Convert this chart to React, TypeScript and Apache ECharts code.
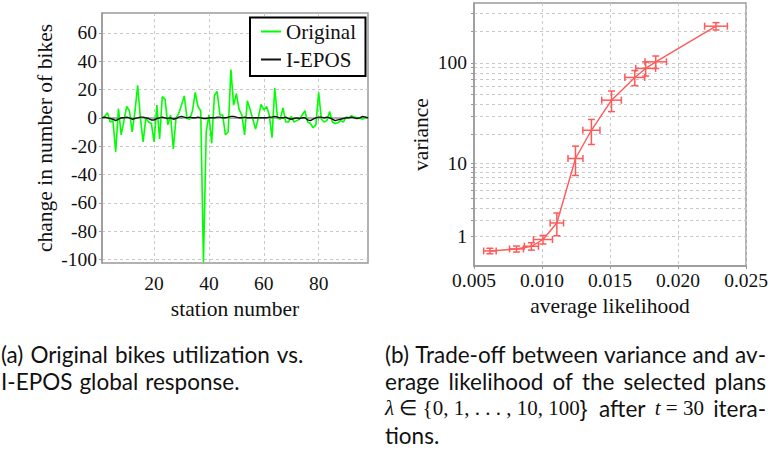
import React, { useEffect, useRef } from "react";
import * as echarts from "echarts";

// ---------- data: (a) bikes ----------
const ORIGINAL = [
  0, 1, 3.5, -3, -2, -24, 6.5, -12, -2, 8,
  5, -10, 4, 23, 0, -17, 0, -3, -4, -17,
  9, -15, 15, 13, -5, 2, -22, 0, 3, 9,
  15.5, -0.5, -1, 5, 18, 8, 5, -102, -10, 2,
  -18, 16, 18.5, 2, 2, -12, -10, 34, 9, 17,
  6, 2, -12, 12, 6, -1, -8, 0, 9.5, 5.5,
  8, 2, -14, 21, 0, -1, 7, -3, -3, 1,
  -3, -2, -1, 2, 5, -3, -4, -7, -5, 18,
  -1, -3, -2, 4.5, -3, -4, -3.5, -2, -3, 0.5,
  0, 1.5, 0.5, 0, 0, -1, 0.5, 0,
];
const IEPOS = [
  0, 0.5, 0, -0.5, -1, -2, -1, 0, 0, 0.5,
  0, -1, -0.5, 0, 0.5, 0.5, 0, -0.5, -1.5, -1.5,
  -0.5, 0, 0.5, 0, -0.5, 0, -1, -0.5, 0.5, 1,
  0.5, 0, 0.5, 0, 0, 0.5, 0, -0.5, -0.5, 0,
  0, 0, 0.5, 0.5, 0, 0, 0.5, 1, 1, 0.5,
  0, 0, 0.5, 0, 0, 0, 0, 0, 0, 0,
  0, 0.5, 0.5, 1, 0.5, 0, 0, 0.5, -0.5, -1,
  -0.5, 0, -0.5, 0, 0, -1.5, -2, -1, 0, 0.5,
  0.5, 0, 0.5, 0, -1, -2, -1.5, -1, -0.5, 0,
  0, 0.5, 0, -0.5, 0, 1, 0.5, 0,
];
const LEFT_X_TICKS = [20, 40, 60, 80];
const LEFT_Y_TICKS = [-100, -80, -60, -40, -20, 0, 20, 40, 60];
const LEFT_X_RANGE = [1, 98];
const LEFT_Y_RANGE = [-102.5, 74];

// ---------- data: (b) trade-off ----------
const LIKELIHOOD = [0.00617, 0.00812, 0.00922, 0.01007, 0.01109, 0.01246, 0.01363, 0.01511, 0.01682, 0.01762, 0.01836, 0.02279];
const LIKELIHOOD_ERR = [0.00046, 0.00051, 0.00052, 0.0007, 0.00049, 0.00055, 0.00063, 0.00072, 0.00073, 0.00073, 0.00079, 0.00084];
const VARIANCE = [0.38, 0.455, 0.56, 0.855, 1.79, 11.3, 22.0, 43.6, 72.4, 88.4, 102.3, 224];
const VARIANCE_ERR = [0.1, 0.115, 0.15, 0.2, 0.75, 3.9, 6.2, 9.9, 12, 13.7, 14, 18];
const RIGHT_X_TICKS = [0.005, 0.01, 0.015, 0.02, 0.025];
const RIGHT_Y_LABELS = [1, 10, 100];
const RIGHT_Y_GRID = [1, 2, 3, 4, 5, 6, 7, 8, 9, 10, 20, 30, 40, 50, 60, 70, 80, 90, 100, 200, 300];
const RIGHT_Y_RANGE = [-0.09, 372];
const LOG_OFFSET = 1.3;

const SERIF = "Liberation Serif";
const SANS = "Lato";
const GRID_COLOR = "#c8c8c8";
const AXIS_COLOR = "#999999";
const RED = "#ff5a5a";

const T = (v: number) => Math.log10(v + LOG_OFFSET);
const Tinv = (t: number) => Math.pow(10, t) - LOG_OFFSET;

type Part = { t: string; it?: boolean; math?: boolean };
type Token = Part[];

const words = (s: string): Token[] => s.split(" ").map((w) => [{ t: w }]);

const CAPTION_A: Token[][] = [
  words("(a) Original bikes utilization vs."),
  words("I-EPOS global response."),
];
const CAPTION_B_JUST: Token[][] = [
  words("(b) Trade-off between variance and av-"),
  words("erage likelihood of the selected plans"),
  [
    [{ t: "λ", it: true, math: true }, { t: " ∈ {0, 1, . . . , 10, 100}", math: true }],
    [{ t: "after" }],
    [{ t: "t", it: true, math: true }, { t: " = 30", math: true }],
    [{ t: "itera-" }],
  ],
];
const CAPTION_B_LAST: Token[][] = [words("tions.")];

const FS_CAP = 22.5;
const FS_MATH = 21;
const WORD_SPACE = 7;

function partFont(p: Part) {
  return `${p.it ? "italic " : ""}${p.math ? FS_MATH : FS_CAP}px "${p.math ? SERIF : SANS}"`;
}

export default function App() {
  const ref = useRef<HTMLDivElement>(null);
  useEffect(() => {
    const chart = echarts.init(ref.current!, null, { renderer: "svg" });
    const ctx = document.createElement("canvas").getContext("2d")!;
    const measure = (tok: Token) =>
      tok.reduce((s, p) => {
        ctx.font = partFont(p);
        return s + ctx.measureText(p.t).width;
      }, 0);
    const tokenText = (tok: Token, x: number, y: number) => {
      const rich: any = {};
      let txt = "";
      tok.forEach((p, i) => {
        const k = "p" + i;
        rich[k] = {
          fontFamily: p.math ? SERIF : SANS,
          fontStyle: p.it ? "italic" : "normal",
          fontSize: p.math ? FS_MATH : FS_CAP,
          fill: "#111",
        };
        txt += `{${k}|${p.t}}`;
      });
      return {
        type: "text",
        x,
        y,
        style: { text: txt, rich, verticalAlign: "middle", fontSize: FS_CAP, fill: "#111" },
      };
    };
    const captionEls: any[] = [];
    const layoutLines = (lines: Token[][], x0: number, y0: number, width: number | null) => {
      lines.forEach((line, li) => {
        const y = y0 + li * 27;
        const ws = line.map(measure);
        let gap = WORD_SPACE;
        if (width != null && line.length > 1) {
          const total = ws.reduce((a, b) => a + b, 0);
          gap = (width - total) / (line.length - 1);
        }
        let x = x0;
        line.forEach((tok, i) => {
          captionEls.push(tokenText(tok, x, y));
          x += ws[i] + gap;
        });
      });
    };
    layoutLines(CAPTION_A, 1, 354, null);
    layoutLines(CAPTION_B_JUST, 385, 354, 381);
    layoutLines(CAPTION_B_LAST, 385, 354 + 3 * 27, null);

    const origData = ORIGINAL.map((v, i) => [i + 1, v]);
    const ieposData = IEPOS.map((v, i) => [i + 1, v]);
    const lineData = LIKELIHOOD.map((x, i) => [x, T(VARIANCE[i])]);
    const errData = LIKELIHOOD.map((x, i) => [
      x,
      T(VARIANCE[i]),
      x - LIKELIHOOD_ERR[i],
      x + LIKELIHOOD_ERR[i],
      T(VARIANCE[i] - VARIANCE_ERR[i]),
      T(VARIANCE[i] + VARIANCE_ERR[i]),
    ]);

    const tickLabel = { fontFamily: SERIF, fontSize: 19.5, color: "#111" };
    const splitLine = { show: true, lineStyle: { color: GRID_COLOR, type: [3, 3] as any, width: 1 } };
    const axisLine = { show: true, lineStyle: { color: AXIS_COLOR, width: 1.5 } };
    const axisTick = (vals: number[]) => ({
      show: true,
      length: 3,
      customValues: vals,
      lineStyle: { color: AXIS_COLOR, width: 1 },
    });
    const nameStyle = { fontFamily: SERIF, fontSize: 21.5, color: "#111" };

    const option: any = {
      animation: false,
      backgroundColor: "#fff",
      grid: [
        { left: 102, top: 13, width: 266, height: 250, show: true, borderColor: AXIS_COLOR, borderWidth: 1.5, backgroundColor: "transparent" },
        { left: 474, top: 3, width: 274, height: 263, show: true, borderColor: AXIS_COLOR, borderWidth: 1.5, backgroundColor: "transparent" },
      ],
      xAxis: [
        {
          type: "value",
          gridIndex: 0,
          min: LEFT_X_RANGE[0],
          max: LEFT_X_RANGE[1],
          axisLine,
          axisTick: axisTick(LEFT_X_TICKS),
          axisLabel: { ...tickLabel, margin: 10, customValues: LEFT_X_TICKS },
          splitLine,
          name: "station number",
          nameLocation: "middle",
          nameGap: 34,
          nameTextStyle: nameStyle,
        },
        {
          type: "value",
          gridIndex: 1,
          min: RIGHT_X_TICKS[0],
          max: RIGHT_X_TICKS[RIGHT_X_TICKS.length - 1],
          axisLine,
          axisTick: axisTick(RIGHT_X_TICKS),
          axisLabel: { ...tickLabel, margin: 4, customValues: RIGHT_X_TICKS, formatter: (v: number) => v.toFixed(3) },
          splitLine,
          name: "average likelihood",
          nameLocation: "middle",
          nameGap: 29,
          nameTextStyle: nameStyle,
        },
      ],
      yAxis: [
        {
          type: "value",
          gridIndex: 0,
          min: LEFT_Y_RANGE[0],
          max: LEFT_Y_RANGE[1],
          axisLine,
          axisTick: axisTick(LEFT_Y_TICKS),
          axisLabel: { ...tickLabel, margin: 5, customValues: LEFT_Y_TICKS },
          splitLine,
          name: "change in number of bikes",
          nameLocation: "middle",
          nameGap: 46,
          nameTextStyle: nameStyle,
        },
        {
          type: "value",
          gridIndex: 1,
          min: T(RIGHT_Y_RANGE[0]),
          max: T(RIGHT_Y_RANGE[1]),
          axisLine,
          axisTick: axisTick(RIGHT_Y_GRID.map(T)),
          axisLabel: {
            ...tickLabel,
            margin: 7,
            customValues: RIGHT_Y_LABELS.map(T),
            formatter: (v: number) => String(Math.round(Tinv(v))),
          },
          splitLine,
          name: "variance",
          nameLocation: "middle",
          nameGap: 42,
          nameTextStyle: nameStyle,
        },
      ],
      legend: {
        left: 256,
        top: 16,
        z: 20,
        orient: "vertical",
        itemGap: 7,
        itemWidth: 20,
        itemHeight: 2,
        icon: "rect",
        textStyle: { fontFamily: SERIF, fontSize: 21, color: "#111" },
        data: ["Original", "I-EPOS"],
      },
      series: [
        {
          name: "Original",
          type: "line",
          xAxisIndex: 0,
          yAxisIndex: 0,
          data: origData,
          symbol: "none",
          lineStyle: { color: "#00ff00", width: 1.6 },
          itemStyle: { color: "#00ff00" },
          clip: true,
          z: 2,
        },
        {
          name: "I-EPOS",
          type: "line",
          xAxisIndex: 0,
          yAxisIndex: 0,
          data: ieposData,
          symbol: "none",
          lineStyle: { color: "#111", width: 1.4 },
          itemStyle: { color: "#111" },
          z: 3,
        },
        {
          name: "tradeoff",
          type: "line",
          xAxisIndex: 1,
          yAxisIndex: 1,
          data: lineData,
          symbol: "none",
          lineStyle: { color: RED, width: 1.4 },
          z: 3,
        },
        {
          name: "errors",
          type: "custom",
          xAxisIndex: 1,
          yAxisIndex: 1,
          data: errData,
          z: 4,
          renderItem: (params: any, api: any) => {
            const y = api.value(1);
            const x = api.value(0);
            const pl = api.coord([api.value(2), y]);
            const pr = api.coord([api.value(3), y]);
            const pb = api.coord([x, api.value(4)]);
            const pt = api.coord([x, api.value(5)]);
            const c = 3.5;
            const st = { stroke: RED, lineWidth: 1.5 };
            const ln = (x1: number, y1: number, x2: number, y2: number) => ({ type: "line", shape: { x1, y1, x2, y2 }, style: st });
            return {
              type: "group",
              children: [
                ln(pl[0], pl[1], pr[0], pr[1]),
                ln(pl[0], pl[1] - c, pl[0], pl[1] + c),
                ln(pr[0], pr[1] - c, pr[0], pr[1] + c),
                ln(pb[0], pb[1], pt[0], pt[1]),
                ln(pb[0] - c, pb[1], pb[0] + c, pb[1]),
                ln(pt[0] - c, pt[1], pt[0] + c, pt[1]),
              ],
            };
          },
        },
      ],
      graphic: [
        {
          type: "rect",
          shape: { x: 250, y: 17.5, width: 115.5, height: 58.5 },
          style: { fill: "#fff", stroke: "#000", lineWidth: 2 },
          z: 5,
        },
        ...captionEls,
      ],
    };
    chart.setOption(option);
    return () => chart.dispose();
  }, []);
  return <div ref={ref} style={{ position: "fixed", left: 0, top: 0, width: 771, height: 454 }} />;
}
